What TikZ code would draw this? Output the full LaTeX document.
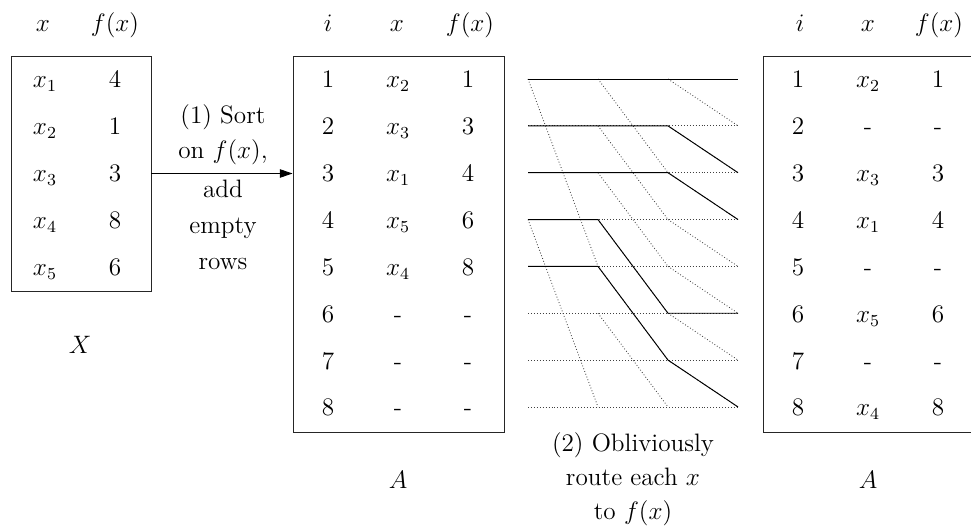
\documentclass[tikz,border=0pt]{standalone}
\usetikzlibrary{arrows.meta}
\newdimen\pxu \pxu=0.476pt
\begin{document}
\begin{tikzpicture}[x=0.476pt,y=-0.476pt,
  font=\fontsize{12}{14.5}\selectfont,
  txt/.style={inner sep=0pt, anchor=base},
  tablebox/.style={draw, line width=0.45pt, inner sep=0pt, black!85},
  wire/.style={line width=0.45pt, line join=round},
  optwire/.style={line width=0.4pt, densely dotted, black!75},
  lbl/.style={inner sep=0pt, anchor=base}]
\useasboundingbox (0,0) rectangle (971,531);

% boxes
\node[tablebox, minimum width=140\pxu, minimum height=235\pxu] (boxX) at (81,173.5) {};
\node[tablebox, minimum width=211\pxu, minimum height=376\pxu] (boxA) at (398.5,244) {};
\node[tablebox, minimum width=217\pxu, minimum height=376\pxu] (boxB) at (871.5,244) {};

% headers
\node[txt] (hX1) at (43,32) {$x$};
\node[txt] (hX2) at (115,32) {$f(x)$};
\node[txt] (hA1) at (328,32) {$i$};
\node[txt] (hA2) at (397,32) {$x$};
\node[txt] (hA3) at (470,32) {$f(x)$};
\node[txt] (hB1) at (800,32) {$i$};
\node[txt] (hB2) at (868,32) {$x$};
\node[txt] (hB3) at (939,32) {$f(x)$};

% table X
\foreach \k/\a/\b in {1/$x_1$/4,2/$x_2$/1,3/$x_3$/3,4/$x_4$/8,5/$x_5$/6}{
  \node[txt] (X-\k-1) at (45,{88+46.85*(\k-1)}) {\a};
  \node[txt] (X-\k-2) at (115,{88+46.85*(\k-1)}) {\b};
}
% table A (sorted)
\foreach \k/\a/\b in {1/$x_2$/1,2/$x_3$/3,3/$x_1$/4,4/$x_5$/6,5/$x_4$/8,6/-/-,7/-/-,8/-/-}{
  \node[txt] (A-\k-1) at (328,{88+46.85*(\k-1)}) {\k};
  \node[txt] (A-\k-2) at (398,{88+46.85*(\k-1)}) {\a};
  \node[txt] (A-\k-3) at (468,{88+46.85*(\k-1)}) {\b};
}
% table A (routed)
\foreach \k/\a/\b in {1/$x_2$/1,2/-/-,3/$x_3$/3,4/$x_1$/4,5/-/-,6/$x_5$/6,7/-/-,8/$x_4$/8}{
  \node[txt] (B-\k-1) at (798,{88+46.85*(\k-1)}) {\k};
  \node[txt] (B-\k-2) at (868,{88+46.85*(\k-1)}) {\a};
  \node[txt] (B-\k-3) at (938,{88+46.85*(\k-1)}) {\b};
}

% table names
\node[txt] (nameX) at (80,353) {$X$};
\node[txt] (nameA) at (398,488) {$A$};
\node[txt] (nameB) at (868,488) {$A$};

% sort arrow
\draw[line width=0.45pt,-{Triangle[length=6pt,width=4pt]}] (boxX.east) -- (boxX.east -| boxA.west);
\node[lbl] (sortlbl) at (223,123.3) {\renewcommand\arraystretch{1.17}\begin{tabular}[t]{@{}c@{}}(1) Sort\\ on $f(x)$,\end{tabular}};
\node[lbl] (addlbl) at (223,198) {\renewcommand\arraystretch{1.17}\begin{tabular}[t]{@{}c@{}}add\\ empty\\ rows\end{tabular}};

% routing network
\foreach \c/\xx in {0/528,1/598,2/668,3/738}
  \foreach \r in {1,...,8}
    \coordinate (n\c-\r) at (\xx,{79+46.85*(\r-1)});
\foreach \r in {1,...,8} \draw[optwire] (n0-\r) -- (n3-\r);
\draw[optwire] (n0-1) -- (n1-5) (n0-4) -- (n1-8);
\foreach \r [evaluate=\r as \s using int(\r+2)] in {1,...,6} \draw[optwire] (n1-\r) -- (n2-\s);
\foreach \r [evaluate=\r as \s using int(\r+1)] in {1,...,7} \draw[optwire] (n2-\r) -- (n3-\s);

\draw[wire] (n0-1) -- (n3-1);
\draw[wire] (n0-2) -- (n2-2) -- (n3-3);
\draw[wire] (n0-3) -- (n2-3) -- (n3-4);
\draw[wire] (n0-4) -- (n1-4) -- (n2-6) -- (n3-6);
\draw[wire] (n0-5) -- (n1-5) -- (n2-7) -- (n3-8);

\node[lbl] (routelbl) at (633,451) {\renewcommand\arraystretch{1.12}\begin{tabular}[t]{@{}c@{}}(2) Obliviously\\ route each $x$\\ to $f(x)$\end{tabular}};
\end{tikzpicture}
\end{document}
